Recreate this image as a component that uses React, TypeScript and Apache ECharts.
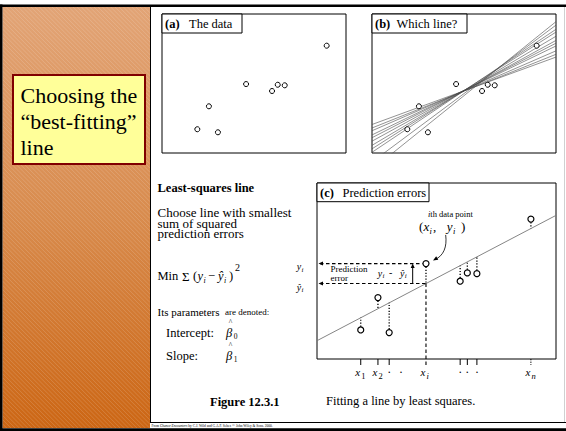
import { useEffect, useRef } from "react";
import * as echarts from "echarts";

const SERIF = '"Liberation Serif", "Times New Roman", Times, serif';

// (a) and (b): the eight observations
const obsX = [1.92, 2.55, 3.04, 4.57, 5.98, 6.29, 6.67, 8.95];
const obsY = [1.71, 3.36, 1.49, 4.96, 4.46, 4.91, 4.87, 7.72];

// (b): candidate lines, given by their heights at the left (x = 0) and right (x = 10) edges
const candidateLeft = [2.05, 1.8, 1.6, 1.3, 1.1, 0.85, 0.55, 0.3, 0.05, -0.65, -1.2];
const candidateRight = [6.9, 7.1, 7.35, 7.7, 7.9, 8.1, 8.4, 8.7, 8.9, 9.2, 9.45];

// (c): observations used to show the prediction errors
const errX = [1.83, 2.55, 3.02, 4.56, 5.99, 6.29, 6.69, 8.95];
const errY = [1.65, 3.49, 1.5, 5.42, 4.42, 4.89, 4.85, 7.95];
// fitted least-squares line: heights at x = 0 and x = 10
const fitEnds = [1.04, 8.16];
const highlight = 3; // the i-th data point

// (c): x-axis tick labels
const tickAt = [1.83, 2.55, 3.02, 3.51, 4.56, 5.99, 6.29, 6.69, 8.95];
const tickMain = ["x", "x", "·", "·", "x", "·", "·", "·", "x"];
const tickSub = ["1", "2", "", "", "i", "", "", "", "n"];

const fitAt = (x: number) => fitEnds[0] + ((fitEnds[1] - fitEnds[0]) * x) / 10;

type TOpts = {
  size?: number;
  bold?: boolean;
  italic?: boolean;
  align?: string;
  valign?: string;
  color?: string;
  z?: number;
  lineHeight?: number;
};

function txt(text: string, x: number, y: number, o: TOpts = {}) {
  const align = o.align ?? "left";
  const valign = o.valign ?? "middle";
  const style: any = {
    text,
    fill: o.color ?? "#000",
    fontFamily: SERIF,
    fontSize: o.size ?? 12,
    fontWeight: o.bold ? "bold" : "normal",
    fontStyle: o.italic ? "italic" : "normal",
    textAlign: align,
    textVerticalAlign: valign,
    align,
    verticalAlign: valign,
  };
  if (o.lineHeight) style.lineHeight = o.lineHeight;
  return { type: "text", x, y, z: o.z ?? 20, silent: true, style };
}

function arrowHead(tx: number, ty: number, dx: number, dy: number, len = 5, half = 2) {
  const n = Math.hypot(dx, dy);
  const ux = dx / n;
  const uy = dy / n;
  const bx = tx - ux * len;
  const by = ty - uy * len;
  return {
    type: "polygon",
    shape: {
      points: [
        [tx, ty],
        [bx - uy * half, by + ux * half],
        [bx + uy * half, by - ux * half],
      ],
    },
    style: { fill: "#000" },
  };
}

function seg(x1: number, y1: number, x2: number, y2: number, width = 1, dash: number[] | null = null, color = "#000") {
  return {
    type: "line",
    shape: { x1, y1, x2, y2 },
    style: { stroke: color, lineWidth: width, lineDash: dash },
  };
}

// diagonal light stripes across the side panel
function stripes(x0: number, y0: number, x1: number, y1: number, step: number) {
  const out: any[] = [];
  for (let c = x0 - y1; c <= x1 - y0; c += step) {
    const ya = Math.max(y0, x0 - c);
    const yb = Math.min(y1, x1 - c);
    if (yb <= ya) continue;
    out.push({
      type: "line",
      silent: true,
      z: 1,
      shape: { x1: ya + c, y1: ya, x2: yb + c, y2: yb },
      style: { stroke: "rgba(255,255,255,0.22)", lineWidth: 0.7 },
    });
  }
  return out;
}

function titleBox(x: number, y: number, w: number, h: number, tag: string, label: string, labelX: number) {
  return [
    {
      type: "rect",
      z: 10,
      silent: true,
      shape: { x, y, width: w, height: h },
      style: { fill: "#fff", stroke: "#000", lineWidth: 1 },
    },
    txt(tag, x + 3, y + h / 2 + 0.5, { bold: true, size: 12.5, z: 11 }),
    txt(label, labelX, y + h / 2 + 0.5, { size: 12.5, z: 11 }),
  ];
}

// y with a hat, followed by a subscript
function yHat(x: number, y: number, sub: string, size: number, subSize: number) {
  return [
    txt("\u0177", x, y, { italic: true, size }),
    txt(sub, x + size * 0.48, y + size * 0.32, { italic: true, size: subSize }),
  ];
}

function yPlain(x: number, y: number, sub: string, size: number, subSize: number) {
  return [
    txt("y", x, y, { italic: true, size }),
    txt(sub, x + size * 0.48, y + size * 0.32, { italic: true, size: subSize }),
  ];
}

// beta with a hat and a numeric subscript
function betaHat(x: number, y: number, sub: string) {
  return [
    txt("\u03B2", x, y, { italic: true, size: 12.5 }),
    txt("^", x + 4.5, y - 11, { size: 7.5, align: "center" }),
    txt(sub, x + 7.8, y + 3, { size: 7.5 }),
  ];
}

function renderResidual(params: any, api: any) {
  const i = params.dataIndex;
  const x = api.value(0);
  const y = api.value(1);
  const p = api.coord([x, y]);
  const f = api.coord([x, fitAt(x)]);
  const b = api.coord([x, 0]);
  const left = api.coord([0, 0])[0];
  const children: any[] = [];
  const dir = f[1] > p[1] ? 1 : -1;
  children.push(seg(p[0], p[1] + dir * 3.3, f[0], f[1], 1.3, [1.2, 1.7]));

  if (i !== highlight) {
    const last = i === errX.length - 1;
    children.push(seg(b[0], b[1], b[0], b[1] + 6, 1, last ? [1.3, 1.3] : null));
    return { type: "group", children };
  }

  // guides for the i-th point
  children.push(seg(f[0], f[1], f[0], b[1] + 6, 1.1, [3.5, 2.5]));
  children.push(seg(left + 3, p[1], p[0] - 3.5, p[1], 1.1, [3.5, 2.5]));
  children.push(seg(left + 3, f[1], f[0], f[1], 1.1, [3.5, 2.5]));
  children.push(arrowHead(left + 1.5, p[1], -1, 0, 4.5, 2));
  children.push(arrowHead(left + 1.5, f[1], -1, 0, 4.5, 2));

  // vertical arrow spanning the prediction error
  const ax = p[0] - 13.3;
  children.push(seg(ax, f[1], ax, p[1] + 3, 1));
  children.push(arrowHead(ax, p[1], 0, -1, 4.5, 2));

  children.push(txt("Prediction\nerror", left + 13.5, p[1] + 9.8, { size: 9, lineHeight: 9.5 }));
  children.push(...yPlain(p[0] - 48.3, p[1] + 9.5, "i", 10, 7));
  children.push(txt("-", p[0] - 37, p[1] + 9, { size: 10 }));
  children.push(...yHat(p[0] - 26, p[1] + 9.5, "i", 10, 7));

  // labels left of the panel
  children.push(...yPlain(left - 20.3, p[1] + 3, "i", 10, 7));
  children.push(...yHat(left - 20.3, f[1] + 3.5, "i", 10, 7));

  // the i-th data point callout
  children.push({
    type: "text",
    x: p[0] + 2,
    y: p[1] - 49.5,
    style: {
      text: "{i|i}th data point",
      fontFamily: SERIF,
      fontSize: 8.5,
      fill: "#000",
      textVerticalAlign: "middle",
      verticalAlign: "middle",
      rich: { i: { fontStyle: "italic", fontFamily: SERIF, fontSize: 8.5 } },
    },
  });
  const cy = p[1] - 37;
  children.push(txt("(", p[0] - 7, cy, { size: 13 }));
  children.push(txt("x", p[0] - 2.5, cy, { italic: true, size: 13 }));
  children.push(txt("i", p[0] + 3.6, cy + 4, { italic: true, size: 8.5 }));
  children.push(txt(",", p[0] + 7, cy, { size: 13 }));
  children.push(txt("y", p[0] + 20.7, cy, { italic: true, size: 13 }));
  children.push(txt("i", p[0] + 27, cy + 4, { italic: true, size: 8.5 }));
  children.push(txt(")", p[0] + 35, cy, { size: 13 }));

  // curved pointer to the point
  const sx = p[0] + 19.7;
  const sy = p[1] - 28.7;
  const ex = p[0] + 7;
  const ey = p[1] - 3;
  children.push({
    type: "bezierCurve",
    shape: { x1: sx, y1: sy, x2: ex + 2, y2: ey - 1, cpx1: sx + 1.5, cpy1: sy + 12, cpx2: sx - 2, cpy2: ey - 5 },
    style: { stroke: "#000", lineWidth: 0.8, fill: null },
  });
  children.push(arrowHead(ex, ey, -1.6, 1, 5, 2));

  return { type: "group", children };
}

function renderTickLabel(params: any, api: any) {
  const i = params.dataIndex;
  const b = api.coord([api.value(0), 0]);
  if (!tickSub[i]) {
    return txt(tickMain[i], b[0], b[1] + 13, { size: 12, align: "center" });
  }
  return {
    type: "group",
    children: [
      txt(tickMain[i], b[0] - 3, b[1] + 12.5, { italic: true, size: 11, align: "center" }),
      txt(tickSub[i], b[0] + 0.5, b[1] + 16.5, { italic: tickSub[i] === "i" || tickSub[i] === "n", size: 8.5 }),
    ],
  };
}

function buildOption() {
  const grids = [
    { left: 162, top: 14, width: 184, height: 139 },
    { left: 372, top: 14, width: 184, height: 139 },
    { left: 317, top: 183, width: 239, height: 176 },
  ].map((g) => ({
    ...g,
    show: true,
    borderColor: "#000",
    borderWidth: 1,
    backgroundColor: "transparent",
  }));

  const axis = [0, 1, 2].map((i) => ({
    type: "value",
    gridIndex: i,
    min: 0,
    max: 10,
    show: false,
  }));

  const scatterStyle = (size: number, width: number) => ({
    type: "scatter",
    symbol: "circle",
    symbolSize: size,
    silent: true,
    z: 6,
    itemStyle: { color: "#fff", borderColor: "#000", borderWidth: width, opacity: 1 },
  });

  const obs = obsX.map((x, i) => [x, obsY[i]]);
  const err = errX.map((x, i) => [x, errY[i]]);

  const series: any[] = [
    { ...scatterStyle(5, 1), xAxisIndex: 0, yAxisIndex: 0, data: obs },
    ...candidateLeft.map((l, i) => ({
      type: "line",
      xAxisIndex: 1,
      yAxisIndex: 1,
      data: [
        [0, l],
        [10, candidateRight[i]],
      ],
      symbol: "none",
      silent: true,
      clip: true,
      z: 3,
      lineStyle: { color: "#4a4a4a", width: 0.6 },
    })),
    { ...scatterStyle(5, 1), xAxisIndex: 1, yAxisIndex: 1, data: obs },
    {
      type: "line",
      xAxisIndex: 2,
      yAxisIndex: 2,
      data: [
        [0, fitEnds[0]],
        [10, fitEnds[1]],
      ],
      symbol: "none",
      silent: true,
      z: 3,
      lineStyle: { color: "#777", width: 0.9 },
    },
    {
      type: "custom",
      xAxisIndex: 2,
      yAxisIndex: 2,
      clip: false,
      silent: true,
      z: 4,
      data: err,
      renderItem: renderResidual,
    },
    {
      type: "custom",
      xAxisIndex: 2,
      yAxisIndex: 2,
      clip: false,
      silent: true,
      z: 4,
      data: tickAt.map((x) => [x, 0]),
      renderItem: renderTickLabel,
    },
    { ...scatterStyle(6, 1.2), xAxisIndex: 2, yAxisIndex: 2, data: err },
  ];

  const elements: any[] = [
    // side panel
    {
      type: "rect",
      z: 0,
      silent: true,
      shape: { x: 2.5, y: 7, width: 147.5, height: 421 },
      style: {
        fill: {
          type: "linear",
          x: 0,
          y: 0,
          x2: 0,
          y2: 1,
          colorStops: [
            { offset: 0, color: "#E2A476" },
            { offset: 0.5, color: "#D88B4D" },
            { offset: 1, color: "#CC6614" },
          ],
        },
      },
    },
    ...stripes(2.5, 7, 150, 428, 4.2),
    // frame
    { type: "rect", z: 2, silent: true, shape: { x: 0, y: 4.5, width: 566, height: 2.5 }, style: { fill: "#000" } },
    { type: "rect", z: 2, silent: true, shape: { x: 0, y: 4.5, width: 2.5, height: 426.5 }, style: { fill: "#000" } },
    { type: "rect", z: 2, silent: true, shape: { x: 0, y: 428.3, width: 566, height: 2.7 }, style: { fill: "#000" } },
    { type: "line", z: 2, silent: true, shape: { x1: 150.5, y1: 7, x2: 150.5, y2: 422.5 }, style: { stroke: "#000", lineWidth: 1 } },
    { type: "line", z: 2, silent: true, shape: { x1: 150, y1: 422.5, x2: 566, y2: 422.5 }, style: { stroke: "#000", lineWidth: 1.2 } },
    { type: "line", z: 2, silent: true, shape: { x1: 564.5, y1: 7, x2: 564.5, y2: 422 }, style: { stroke: "#d0d0d0", lineWidth: 1 } },

    // heading box
    {
      type: "rect",
      z: 3,
      silent: true,
      shape: { x: 13, y: 75, width: 132, height: 89 },
      style: { fill: "#FFFF99", stroke: "#800000", lineWidth: 2 },
    },
    txt("Choosing the\n\u201Cbest-fitting\u201D\nline", 20.5, 121, { size: 22, lineHeight: 26 }),

    // panel titles
    ...titleBox(162, 14, 80, 19, "(a)", "The data", 189),
    ...titleBox(372, 14, 95, 19, "(b)", "Which line?", 396.5),
    ...titleBox(317, 183, 112, 18.7, "(c)", "Prediction errors", 342.5),

    // least-squares notes
    txt("Least-squares line", 157.5, 188, { bold: true, size: 12.5 }),
    txt("Choose line with smallest\nsum of squared\nprediction errors", 157.5, 223, { size: 13, lineHeight: 10.5 }),

    txt("Min", 157.5, 276, { size: 12.5 }),
    txt("\u03A3", 182, 276, { size: 13 }),
    txt("(", 193, 276, { size: 12.5 }),
    ...yPlain(197.5, 276, "i", 12.5, 8),
    txt("\u2212", 208, 276, { size: 12.5 }),
    ...yHat(218, 276, "i", 12.5, 8),
    txt(")", 229, 276, { size: 12.5 }),
    txt("2", 235, 267, { size: 10 }),

    txt("Its parameters", 157.5, 311.5, { size: 11 }),
    txt("are denoted:", 225, 312.3, { size: 9 }),

    txt("Intercept:", 166, 333, { size: 12.5 }),
    ...betaHat(226, 333, "0"),
    txt("Slope:", 166, 356, { size: 12.5 }),
    ...betaHat(226, 356, "1"),

    // caption
    txt("Figure 12.3.1", 210, 401.5, { bold: true, size: 12.5 }),
    txt("Fitting a line by least squares.", 326, 401, { size: 12.5 }),

    // source line
    {
      type: "text",
      x: 151.5,
      y: 426,
      z: 20,
      silent: true,
      style: {
        text: "From {i|Chance Encounters} by C.J. Wild and G.A.F. Seber. \u00A9 John Wiley & Sons. 2000.",
        fontFamily: SERIF,
        fontSize: 3.5,
        fill: "#000",
        textVerticalAlign: "middle",
        verticalAlign: "middle",
        rich: { i: { fontStyle: "italic", fontFamily: SERIF, fontSize: 3.5 } },
      },
    },
  ];

  return {
    animation: false,
    backgroundColor: "#fff",
    grid: grids,
    xAxis: axis,
    yAxis: axis.map((a) => ({ ...a })),
    series,
    graphic: { elements },
  };
}

export default function App() {
  const ref = useRef<HTMLDivElement>(null);
  useEffect(() => {
    if (!ref.current) return;
    const chart = echarts.init(ref.current, undefined, { renderer: "svg" });
    chart.setOption(buildOption() as any);
    return () => chart.dispose();
  }, []);
  return (
    <div
      ref={ref}
      style={{ position: "absolute", left: 0, top: 0, width: 566, height: 431 }}
    />
  );
}
